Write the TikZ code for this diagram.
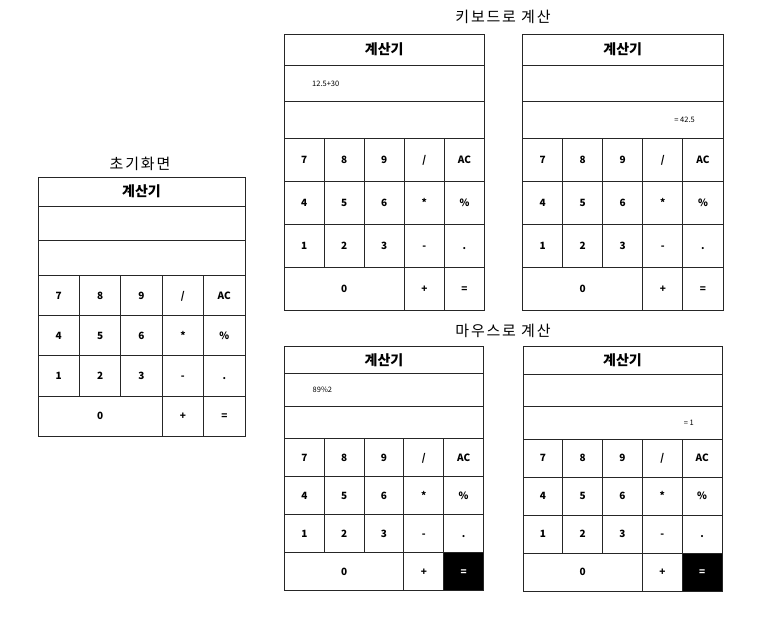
\documentclass[tikz,border=0pt]{standalone}
\usepackage{fontspec}
\setmainfont{Noto Sans CJK KR}
\usetikzlibrary{calc}

\tikzset{
  panel/.style={draw=black!85, line width=0.9pt, fill=white, outer sep=0pt, inner sep=0pt, anchor=north west},
  key/.style={panel, font=\bfseries\fontsize{10}{10}\selectfont, text height=0.72em, text depth=0pt},
  eqkey/.style={key},
  pagetitle/.style={font=\fontsize{15}{17}\selectfont\addfontfeature{LetterSpace=12}},
  screen/.style={font=\fontsize{7.5}{8}\selectfont, inner sep=0pt},
}

% #1 name, #2 #3 top left, #4 width, #5 title, #6 screen, #7 key height, #8 input, #9 result
\newcommand{\calcpanel}[9]{%
  \pgfmathsetmacro{\kw}{#4/5}
  \node[panel, minimum width=#4pt, minimum height=#5pt, font=\bfseries\fontsize{14}{14}\selectfont] (#1-title) at (#2,#3) {계산기};
  \node[panel, minimum width=#4pt, minimum height=#6pt] (#1-input) at (#1-title.south west) {};
  \node[panel, minimum width=#4pt, minimum height=#6pt] (#1-output) at (#1-input.south west) {};
  \node[screen, anchor=west] (#1-expr) at ([xshift=28pt]#1-input.west) {#8};
  \node[screen, anchor=east] (#1-res) at ([xshift=-28pt]#1-output.east) {#9};

  \foreach \lbl [count=\i from 0] in {7,8,9,/,AC,4,5,6,*,\%,1,2,3,-,.} {
    \pgfmathtruncatemacro{\kcol}{mod(\i,5)}
    \pgfmathtruncatemacro{\krow}{div(\i,5)}
    \node[key, minimum width=\kw pt, minimum height=#7pt] (#1-k\i) at ($(#1-output.south west)+(\kcol*\kw,\krow*#7)$) {\lbl};
  }
  \node[key, minimum width=3*\kw pt, minimum height=#7pt] (#1-zero) at (#1-k10.south west) {0};
  \node[key, minimum width=\kw pt, minimum height=#7pt] (#1-plus) at (#1-k13.south west) {+};
  \node[eqkey, minimum width=\kw pt, minimum height=#7pt] (#1-eq) at (#1-k14.south west) {=};
}

\begin{document}
\begin{tikzpicture}[x=1pt,y=-1pt]
  \useasboundingbox (0,0) rectangle (761,621);

  \node[pagetitle] (init-caption) at (140,164) {초기화면};
  \node[pagetitle] (kbd-caption) at (503,17) {키보드로 계산};
  \node[pagetitle] (mouse-caption) at (503,331) {마우스로 계산};

  \calcpanel{init}{38}{177}{207}{29}{34.7}{40.25}{}{}

  \calcpanel{kbdin}{284}{34}{200.5}{31}{36.7}{43}{12.5+30}{}
  \calcpanel{kbdout}{522.5}{34}{200.5}{31}{36.7}{43}{}{= 42.5}

  \begin{scope}[eqkey/.style={key, fill=black, text=white}]
    \calcpanel{mousein}{284.5}{346}{199}{27.5}{32.5}{38}{89\%2}{}
    \calcpanel{mouseout}{523}{346.5}{199}{27.5}{32.5}{38}{}{= 1}
  \end{scope}
\end{tikzpicture}
\end{document}
